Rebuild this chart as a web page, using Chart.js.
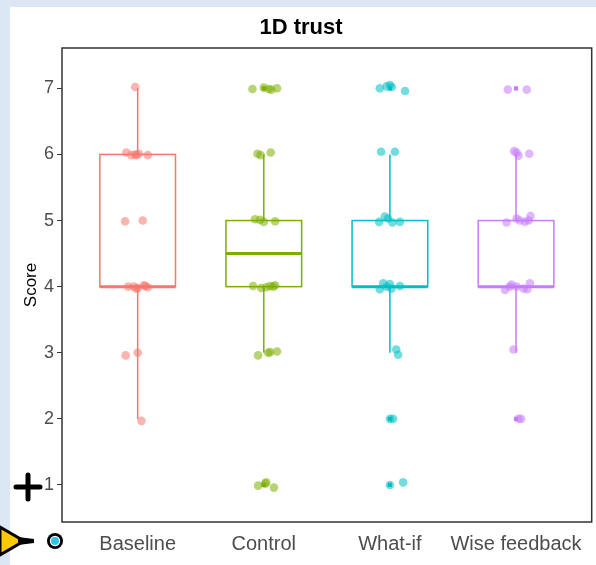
<!DOCTYPE html>
<html>
<head>
<meta charset="utf-8">
<script src="https://cdn.jsdelivr.net/npm/chart.js@4.4.1/dist/chart.umd.min.js"></script>
<style>
  html, body { margin: 0; padding: 0; background: #dbe7f4; }
  canvas { display: block; }
</style>
</head>
<body>
<canvas id="myChart" width="596" height="565"></canvas>
<script>
// groups and colours (ggplot hues)
const categories = ["Baseline", "Control", "What-if", "Wise feedback"];
const colors = ["#F8766D", "#7CAE00", "#00BFC4", "#C77CFF"];
const pointColors = ["rgba(248,118,109,0.55)", "rgba(124,174,0,0.55)", "rgba(0,191,196,0.55)", "rgba(199,124,255,0.55)"];

// boxplot stats
const whiskerLow = [2, 3, 3, 3];
const q1 = [4, 4, 4, 4];
const median = [4, 4.5, 4, 4];
const q3 = [6, 5, 5, 5];
const whiskerHigh = [7, 6, 6, 6];

// boxplot outliers
const controlOut = [7, 1];
const whatifOut = [7, 2, 1];
const wiseOut = [7, 2];

// jittered scores and their x jitter
const baselineScores = [7.02, 6.03, 5.99, 6.0, 5.99, 6.01, 5.99, 4.99, 5.0, 4.0, 3.97, 4.02, 3.99, 4.0, 3.98, 4.01, 2.96, 3.0, 1.97];
const baselineJitter = [-0.02, -0.09, -0.05, -0.02, -0.01, 0.01, 0.08, -0.1, 0.04, -0.075, -0.01, 0.05, 0.08, -0.03, 0.0, 0.06, -0.095, 0.0, 0.03];

const controlScores = [6.99, 7.01, 6.99, 6.98, 7.0, 6.01, 5.99, 6.03, 5.02, 5.01, 4.98, 4.99, 4.01, 3.98, 3.99, 4.01, 4.0, 4.02, 2.96, 3.0, 3.01, 3.02, 0.99, 1.02, 1.04, 0.96];
const controlJitter = [-0.09, 0.0, 0.04, 0.06, 0.105, -0.05, -0.025, 0.055, -0.07, -0.03, 0.0, 0.09, -0.085, -0.02, 0.02, 0.05, 0.075, 0.09, -0.045, 0.035, 0.05, 0.105, -0.045, 0.01, 0.02, 0.08];

const whatifScores = [7.0, 7.03, 7.05, 7.02, 6.96, 6.04, 6.04, 4.98, 5.06, 5.03, 4.97, 4.98, 3.96, 4.05, 4.0, 4.04, 3.97, 4.01, 3.05, 2.97, 2.0, 2.0, 1.0, 1.04];
const whatifJitter = [-0.08, -0.025, 0.0, 0.015, 0.12, -0.07, 0.04, -0.085, -0.04, -0.015, 0.02, 0.08, -0.08, -0.053, -0.026, 0.0, 0.013, 0.08, 0.05, 0.065, 0.0, 0.025, 0.0, 0.105];

const wiseScores = [6.98, 6.98, 6.05, 6.03, 5.98, 6.01, 4.97, 5.03, 5.0, 4.98, 5.0, 5.07, 3.95, 4.0, 4.03, 4.0, 3.97, 3.96, 4.05, 3.05, 2.0, 2.0];
const wiseJitter = [-0.065, 0.085, -0.015, 0.005, 0.02, 0.105, -0.075, 0.005, 0.03, 0.07, 0.1, 0.115, -0.087, -0.05, -0.035, 0.005, 0.06, 0.09, 0.11, -0.02, 0.02, 0.04];

const yTicks = [1, 2, 3, 4, 5, 6, 7];

const allScores = [baselineScores, controlScores, whatifScores, wiseScores];
const allJitter = [baselineJitter, controlJitter, whatifJitter, wiseJitter];
const allOut = [[], controlOut, whatifOut, wiseOut];

const datasets = [];
categories.forEach(function (c, i) {
  datasets.push({
    label: c,
    data: allScores[i].map(function (s, k) { return { x: i + 1 + allJitter[i][k], y: s }; }),
    backgroundColor: pointColors[i],
    borderWidth: 0,
    pointRadius: 4.3,
  });
});
categories.forEach(function (c, i) {
  datasets.push({
    label: c + " outliers",
    data: allOut[i].map(function (s) { return { x: i + 1, y: s }; }),
    backgroundColor: colors[i],
    borderWidth: 0,
    pointStyle: "rect",
    pointRadius: 3,
  });
});

// panel background, boxes, frame and screen decorations
const boxPlugin = {
  id: "boxes",
  beforeDraw: function (chart) {
    const ctx = chart.ctx;
    ctx.save();
    ctx.fillStyle = "#dbe7f4";
    ctx.fillRect(0, 0, chart.width, chart.height);
    ctx.fillStyle = "#ffffff";
    ctx.fillRect(10, 7, chart.width - 10, chart.height - 7);
    ctx.restore();
  },
  beforeDatasetsDraw: function (chart) {
    const ctx = chart.ctx;
    const xs = chart.scales.x;
    const ys = chart.scales.y;
    ctx.save();
    categories.forEach(function (c, i) {
      const xl = xs.getPixelForValue(i + 1 - 0.3);
      const xr = xs.getPixelForValue(i + 1 + 0.3);
      const xc = xs.getPixelForValue(i + 1);
      ctx.strokeStyle = colors[i];
      ctx.lineWidth = 1.5;
      ctx.beginPath();
      ctx.moveTo(xc, ys.getPixelForValue(q3[i]));
      ctx.lineTo(xc, ys.getPixelForValue(whiskerHigh[i]));
      ctx.moveTo(xc, ys.getPixelForValue(q1[i]));
      ctx.lineTo(xc, ys.getPixelForValue(whiskerLow[i]));
      ctx.stroke();
      const yt = ys.getPixelForValue(q3[i]);
      const yb = ys.getPixelForValue(q1[i]);
      ctx.fillStyle = "#ffffff";
      ctx.fillRect(xl, yt, xr - xl, yb - yt);
      ctx.strokeRect(xl, yt, xr - xl, yb - yt);
      ctx.lineWidth = 3;
      ctx.beginPath();
      ctx.moveTo(xl, ys.getPixelForValue(median[i]));
      ctx.lineTo(xr, ys.getPixelForValue(median[i]));
      ctx.stroke();
    });
    ctx.restore();
  },
  afterDraw: function (chart) {
    const ctx = chart.ctx;
    const a = chart.chartArea;
    ctx.save();
    ctx.strokeStyle = "#333333";
    ctx.lineWidth = 1.5;
    ctx.strokeRect(a.left, a.top, a.right - a.left, a.bottom - a.top);
    // cross marker
    ctx.strokeStyle = "#000";
    ctx.lineWidth = 5;
    ctx.lineCap = "round";
    ctx.beginPath();
    ctx.moveTo(16, 487); ctx.lineTo(40, 487);
    ctx.moveTo(28, 475); ctx.lineTo(28, 499);
    ctx.stroke();
    // pointer
    ctx.lineCap = "butt";
    ctx.fillStyle = "#ffc800";
    ctx.lineWidth = 3;
    ctx.beginPath();
    ctx.moveTo(0, 527);
    ctx.lineTo(24, 541);
    ctx.lineTo(0, 555);
    ctx.closePath();
    ctx.fill();
    ctx.stroke();
    ctx.fillStyle = "#000";
    ctx.beginPath();
    ctx.moveTo(18, 537);
    ctx.lineTo(34, 539);
    ctx.lineTo(34, 543);
    ctx.lineTo(18, 545);
    ctx.closePath();
    ctx.fill();
    ctx.beginPath();
    ctx.arc(55, 541, 8, 0, Math.PI * 2);
    ctx.fill();
    ctx.fillStyle = "#ffffff";
    ctx.beginPath();
    ctx.arc(55, 541, 5.2, 0, Math.PI * 2);
    ctx.fill();
    ctx.fillStyle = "#2ec4e6";
    ctx.beginPath();
    ctx.arc(55, 541, 4, 0, Math.PI * 2);
    ctx.fill();
    ctx.restore();
  },
};

const config = {
  type: "scatter",
  data: { datasets: datasets },
  plugins: [boxPlugin],
  options: {
    responsive: false,
    animation: false,
    devicePixelRatio: 1,
    layout: { padding: { left: 10, top: 7, right: 4, bottom: 0 } },
    plugins: {
      legend: { display: false },
      tooltip: { enabled: false },
      title: {
        display: true,
        text: "1D trust",
        color: "#000",
        font: { family: "Liberation Sans, Arial, sans-serif", size: 22, weight: "bold" },
        padding: { top: 8, bottom: 6.6 },
      },
    },
    scales: {
      x: {
        type: "linear",
        min: 0.4,
        max: 4.6,
        afterBuildTicks: function (scale) {
          scale.ticks = categories.map(function (c, i) { return { value: i + 1 }; });
        },
        afterFit: function (scale) { scale.height = 43; },
        grid: { display: false, drawTicks: false },
        border: { display: false },
        ticks: {
          padding: 10,
          color: "#4d4d4d",
          maxRotation: 0,
          font: { family: "Liberation Sans, Arial, sans-serif", size: 20 },
          callback: function (v) { return categories[v - 1]; },
        },
      },
      y: {
        min: 0.44,
        max: 7.61,
        afterBuildTicks: function (scale) {
          scale.ticks = yTicks.map(function (v) { return { value: v }; });
        },
        afterFit: function (scale) { scale.width = 52; },
        grid: { drawOnChartArea: false, tickLength: 5, color: "#333333" },
        border: { display: false },
        ticks: {
          padding: 3,
          color: "#4d4d4d",
          font: { family: "Liberation Sans, Arial, sans-serif", size: 18 },
        },
        title: {
          display: true,
          text: "Score",
          color: "#000",
          padding: { top: 11, bottom: 0 },
          font: { family: "Liberation Sans, Arial, sans-serif", size: 17 },
        },
      },
    },
  },
};

const myChart = new Chart(document.getElementById("myChart"), config);
</script>
</body>
</html>
